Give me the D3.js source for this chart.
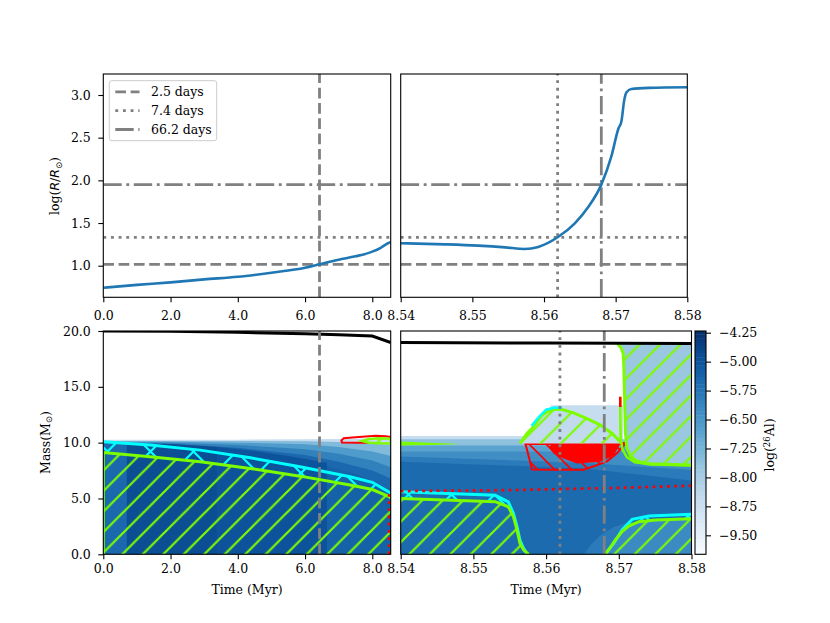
<!DOCTYPE html>
<html>
<head>
<meta charset="utf-8">
<script src="https://cdn.jsdelivr.net/npm/d3@7/dist/d3.min.js"></script>
<style>
  body { margin: 0; background: #fff; }
  svg text { font-family: 'DejaVu Serif', serif; fill: #000; }
</style>
</head>
<body>
<div id="chart"></div>
<script>
// ---- radius evolution (top panels), log(R/Rsun)
const timeEarly = [0, 1, 2, 3, 4, 5, 6, 6.43, 7, 7.5, 8, 8.25, 8.45, 8.55];
const logREarly = [0.742, 0.775, 0.805, 0.84, 0.87, 0.918, 0.975, 1.016, 1.07, 1.11, 1.165, 1.21, 1.26, 1.28];
const timeLate = [8.54, 8.5462, 8.5508, 8.5546, 8.5573, 8.5592, 8.5619, 8.5643, 8.5662, 8.568, 8.5694, 8.5704, 8.5708, 8.5712, 8.5715, 8.5722, 8.5746, 8.58];
const logRLate = [1.263, 1.25, 1.235, 1.215, 1.196, 1.22, 1.333, 1.497, 1.69, 1.95, 2.28, 2.61, 2.69, 2.94, 3.03, 3.07, 3.083, 3.09];

// ---- orbital periods marked on the plots
const periodLabels = ['2.5 days', '7.4 days', '66.2 days'];
const periodLogR = [1.016, 1.333, 1.95];
const periodTime = [6.43, 8.5619, 8.568];

// ---- tick labels
const ticksEarly = [0, 2, 4, 6, 8];
const ticksLate = [8.54, 8.55, 8.56, 8.57, 8.58];
const ticksLogR = [1.0, 1.5, 2.0, 2.5, 3.0];
const ticksMass = [0, 5, 10, 15, 20];
const ticksAl = [-4.25, -5.0, -5.75, -6.5, -7.25, -8.0, -8.75, -9.5];

// ---- Kippenhahn diagram, early part ([time Myr, mass Msun])
const totalMassEarly = [[0, 20.0], [2, 19.97], [4, 19.88], [6, 19.76], [7, 19.67], [8, 19.55], [8.55, 18.97]];
const convCoreEarly = [[0, 9.12], [1.39, 8.73], [2.88, 8.28], [4.37, 7.69], [5.85, 7.0], [7.34, 6.2], [8.0, 5.8], [8.48, 5.2], [8.55, 5.05]];
const overshootEarly = [[0, 10.07], [1.39, 9.78], [2.88, 9.33], [4.37, 8.65], [5.85, 7.84], [7.34, 6.94], [8.0, 6.45], [8.48, 5.6], [8.55, 5.4]];
const redShellEarly = [[7.08, 10.2], [7.15, 10.4], [7.5, 10.48], [7.9, 10.58], [8.1, 10.62], [8.4, 10.58], [8.55, 10.5], [8.55, 9.95], [8.2, 10.02], [7.6, 10.0], [7.1, 10.02]];
const greenShellEarly = [[7.7, 10.15], [7.9, 10.32], [8.2, 10.4], [8.55, 10.35], [8.55, 9.92], [8.2, 9.95], [7.9, 10.0]];
const heCoreEarly = [[8.5, 0], [8.5, 5.3], [8.55, 5.6]];

// log(26Al) field, early part: layer levels and the top of each layer
const fieldEarlyTimes = [0, 2, 4, 6, 7, 8, 8.55];
const fieldEarlyLevels = [-8.6, -7.4, -6.6, -6.0, -5.45];
const fieldEarlyTops = [
  [10.25, 10.25, 10.27, 10.3, 10.32, 10.38, 10.42],
  [10.15, 10.15, 10.15, 10.12, 10.05, 9.95, 9.8],
  [10.1, 10.08, 10.0, 9.85, 9.6, 9.2, 8.8],
  [10.05, 9.98, 9.8, 9.4, 9.0, 8.4, 7.8],
  [10.0, 9.9, 9.55, 8.9, 8.3, 7.5, 6.8]
];
const coreShadeLevels = [-4.85, -4.98, -5.3];
const coreShadeAreas = [
  [[0.7, 0], [0.7, 9.95], [2, 9.88], [3.4, 9.6], [3.4, 0]],
  [[3.4, 0], [3.4, 9.6], [4.5, 9.25], [5.5, 8.8], [6.65, 8.2], [6.65, 0]],
  [[6.65, 0], [6.65, 7.9], [7.5, 7.2], [8.2, 6.3], [8.55, 5.6], [8.55, 0]]
];

// ---- Kippenhahn diagram, late part
const totalMassLate = [[8.54, 18.97], [8.56, 18.92], [8.58, 18.87]];
const convCoreLate1 = [[8.54, 5.0], [8.553, 4.71], [8.5548, 4.26], [8.5555, 3.37], [8.556, 2.18], [8.5564, 1.0], [8.5569, 0.4], [8.5576, 0]];
const overshootLate1 = [[8.54, 5.6], [8.553, 5.3], [8.5548, 4.7], [8.5555, 3.67], [8.556, 2.47], [8.5564, 1.28], [8.5569, 0.54], [8.5574, 0]];
const convCoreLate2 = [[8.56815, 0], [8.56884, 0.63], [8.56953, 1.28], [8.57045, 2.03], [8.57137, 2.53], [8.57274, 2.92], [8.57505, 3.07], [8.58, 3.19]];
const overshootLate2 = [[8.5682, 0], [8.56838, 0.24], [8.5693, 0.98], [8.57045, 2.18], [8.57183, 3.13], [8.57413, 3.43], [8.58, 3.58]];
const shellBump = [[8.55644, 9.93], [8.55736, 10.82], [8.55805, 11.27], [8.55874, 11.86], [8.55943, 12.46], [8.56012, 12.76], [8.56126, 13.0], [8.56219, 12.97], [8.56378, 12.67], [8.56563, 12.16], [8.56746, 11.57], [8.56908, 10.82], [8.57022, 10.07], [8.5704, 9.93]];
const shellBumpOvershoot = [[8.558, 11.5], [8.559, 12.3], [8.56, 12.95], [8.5612, 13.15], [8.5622, 13.12]];
const envelopeLate = [[8.5698, 18.87], [8.5703, 18.5], [8.5706, 18.0], [8.57068, 17.0], [8.5708, 14], [8.5709, 11], [8.5711, 9.5], [8.5716, 8.8], [8.5725, 8.35], [8.574, 8.1], [8.58, 8.0], [8.58, 18.87]];
const innerWallLate = [[8.5702, 14.1], [8.5702, 12.5], [8.57025, 10.5], [8.5705, 9.4], [8.5711, 8.7], [8.5722, 8.25], [8.5745, 8.05], [8.58, 7.95]];
const innerWallTip = [[8.5702, 14.1], [8.5702, 13.2]];
const redBoxLate = [[8.55713, 9.93], [8.57091, 9.93], [8.56977, 9.07], [8.56838, 8.33], [8.56654, 7.88], [8.56516, 7.58], [8.5615, 7.58], [8.55805, 7.6], [8.5578, 8.28], [8.5572, 9.8]];
const redBlobLate = [[8.56034, 9.62], [8.5608, 9.85], [8.5702, 9.85], [8.5693, 8.88], [8.56746, 8.28], [8.56425, 8.14], [8.5624, 8.59], [8.56103, 9.03]];
const greenStripLate = [[8.54, 10.1], [8.544, 10.0], [8.5477, 9.9], [8.5477, 9.85], [8.544, 9.8], [8.54, 9.75]];
const heCoreLate = [[8.54, 5.66], [8.555, 5.75], [8.57, 5.95], [8.58, 6.14]];

// log(26Al) field, late part
const fieldLateLevels = [-8.6, -7.6, -6.8, -6.3, -5.85, -5.5];
const fieldLateAreas = [
  [[8.54, 0], [8.54, 10.6], [8.5606, 10.6], [8.5606, 13.36], [8.5706, 13.36], [8.5706, 0]],
  [[8.54, 0], [8.54, 10.3], [8.58, 10.3], [8.58, 0]],
  [[8.54, 0], [8.54, 9.75], [8.58, 9.75], [8.58, 0]],
  [[8.54, 0], [8.54, 9.2], [8.58, 9.2], [8.58, 0]],
  [[8.54, 0], [8.54, 8.75], [8.565, 8.2], [8.58, 7.55], [8.58, 0]],
  [[8.54, 0], [8.54, 8.3], [8.565, 7.7], [8.58, 6.6], [8.58, 0]]
];
const glowLevel = -5.85;
const glowArea = [[8.5652, 0], [8.5662, 0.9], [8.5675, 1.7], [8.5692, 2.4], [8.571, 2.8], [8.58, 3.1], [8.58, 0]];
const coreLate2Level = -6.2;
const bumpLevel = -8.5;
const envelopeLevel = -7.8;
const alRange = [-9.99, -4.2];

// ---------------------------------------------------------------
const svg = d3.select('#chart').append('svg').attr('width', 830).attr('height', 623);
const defs = svg.append('defs');
const blues = d3.scaleSequential(d3.interpolateBlues).domain(alRange);

const GRAY = '#808080', GREEN = '#7cfc00', CYAN = '#00ffff', RED = '#ff0000';
const FS = '12.5px';
const dashStyle = ['10.7,4.6', '2.9,4.75', '18.4,4.6,2.9,4.6'];

// panel boxes
const TL = { x0: 103.3, x1: 390.7, y0: 74, y1: 297.3 };
const TR = { x0: 400.7, x1: 687.3, y0: 74, y1: 297.3 };
const BL = { x0: 103.3, x1: 390.7, y0: 331, y1: 554.3 };
const BR = { x0: 400.7, x1: 691.5, y0: 331, y1: 554.3 };
const CB = { x0: 695, x1: 706, y0: 331, y1: 554.3 };

const xEarly = d3.scaleLinear().domain([0, 8]).range([103.3, 372.3]);
const xLateTop = d3.scaleLinear().domain([8.54, 8.58]).range([400.7, 687.3]);
const xLateBot = d3.scaleLinear().domain([8.54, 8.58]).range([400.7, 691.5]);
const yLogR = d3.scaleLinear().domain([1.0, 3.0]).range([265.7, 95]);
const yMass = d3.scaleLinear().domain([0, 20]).range([554.3, 331]);
const yAl = d3.scaleLinear().domain([-4.25, -9.5]).range([332.7, 535.3]);

// hatch patterns (screen space, like matplotlib)
function addHatch(id, s, color, width, kinds) {
  const h = s / 2;
  let d = '';
  if (kinds.includes('/')) d += `M0,${s}L${s},0M${-h},${h}L${h},${-h}M${h},${s + h}L${s + h},${h}`;
  if (kinds.includes('\\')) d += `M0,0L${s},${s}M${-h},${h}L${h},${s + h}M${h},${-h}L${s + h},${h}`;
  defs.append('pattern').attr('id', id).attr('patternUnits', 'userSpaceOnUse')
    .attr('width', s).attr('height', s)
    .append('path').attr('d', d).attr('fill', 'none').attr('stroke', color).attr('stroke-width', width);
}
addHatch('hatchGreen', 20.5, GREEN, 2.2, '/');
addHatch('hatchCyan', 43, CYAN, 2.2, '/\\');
addHatch('hatchRed', 17, RED, 1.6, '\\');

function clipFor(id, b) {
  defs.append('clipPath').attr('id', id).append('rect')
    .attr('x', b.x0).attr('y', b.y0).attr('width', b.x1 - b.x0).attr('height', b.y1 - b.y0);
  return svg.append('g').attr('clip-path', `url(#${id})`);
}
function frame(b) {
  svg.append('rect').attr('x', b.x0).attr('y', b.y0).attr('width', b.x1 - b.x0).attr('height', b.y1 - b.y0)
    .attr('fill', 'none').attr('stroke', '#000').attr('stroke-width', 1.1);
}
function styleAxis(a) {
  a.select('.domain').remove();
  a.selectAll('line').attr('stroke', '#000').attr('stroke-width', 1.1);
  a.selectAll('text').attr('font-family', "'DejaVu Serif', serif").attr('font-size', FS).attr('fill', '#000');
}
function xAxisAt(scale, y, ticks, fmt, pad) {
  const a = svg.append('g').attr('transform', `translate(0,${y})`)
    .call(d3.axisBottom(scale).tickValues(ticks).tickFormat(d3.format(fmt)).tickSize(5).tickSizeOuter(0).tickPadding(pad));
  styleAxis(a);
}
function yAxisAt(scale, x, ticks, fmt) {
  const a = svg.append('g').attr('transform', `translate(${x},0)`)
    .call(d3.axisLeft(scale).tickValues(ticks).tickFormat(d3.format(fmt)).tickSize(5).tickSizeOuter(0).tickPadding(7.5));
  styleAxis(a);
}
const pathGen = (x, y) => d3.line().x(d => x(d[0])).y(d => y(d[1]));
function area(g, gen, pts, fill) {
  return g.append('path').attr('d', gen(pts) + 'Z').attr('fill', fill);
}
function stroke(g, gen, pts, color, w, dash) {
  const p = g.append('path').attr('d', gen(pts)).attr('fill', 'none')
    .attr('stroke', color).attr('stroke-width', w);
  if (dash) p.attr('stroke-dasharray', dash);
  return p;
}

// ---------------- top-left: radius, early
const gTL = clipFor('clipTL', TL);
periodLogR.forEach((r, i) => {
  gTL.append('line').attr('x1', TL.x0).attr('x2', TL.x1).attr('y1', yLogR(r)).attr('y2', yLogR(r))
    .attr('stroke', GRAY).attr('stroke-width', 2.8).attr('stroke-dasharray', dashStyle[i]);
});
gTL.append('line').attr('x1', xEarly(periodTime[0])).attr('x2', xEarly(periodTime[0]))
  .attr('y1', TL.y1).attr('y2', TL.y0).attr('stroke', GRAY).attr('stroke-width', 2.8).attr('stroke-dasharray', dashStyle[0]);
gTL.append('path').datum(timeEarly.map((t, i) => [t, logREarly[i]]))
  .attr('d', d3.line().x(d => xEarly(d[0])).y(d => yLogR(d[1])).curve(d3.curveMonotoneX))
  .attr('fill', 'none').attr('stroke', '#1f77b4').attr('stroke-width', 2.6);
frame(TL);
xAxisAt(xEarly, TL.y1, ticksEarly, '.1f', 8.8);
yAxisAt(yLogR, TL.x0, ticksLogR, '.1f');

// ---------------- top-right: radius, late
const gTR = clipFor('clipTR', TR);
periodLogR.forEach((r, i) => {
  gTR.append('line').attr('x1', TR.x0).attr('x2', TR.x1).attr('y1', yLogR(r)).attr('y2', yLogR(r))
    .attr('stroke', GRAY).attr('stroke-width', 2.8).attr('stroke-dasharray', dashStyle[i]);
});
[1, 2].forEach(i => {
  gTR.append('line').attr('x1', xLateTop(periodTime[i])).attr('x2', xLateTop(periodTime[i]))
    .attr('y1', TR.y1).attr('y2', TR.y0).attr('stroke', GRAY).attr('stroke-width', 2.8).attr('stroke-dasharray', dashStyle[i]);
});
gTR.append('path').datum(timeLate.map((t, i) => [t, logRLate[i]]))
  .attr('d', d3.line().x(d => xLateTop(d[0])).y(d => yLogR(d[1])).curve(d3.curveMonotoneX))
  .attr('fill', 'none').attr('stroke', '#1f77b4').attr('stroke-width', 2.6);
frame(TR);
xAxisAt(xLateTop, TR.y1, ticksLate, '.2f', 8.8);

// legend
const lg = svg.append('g');
lg.append('rect').attr('x', 109.3).attr('y', 80.7).attr('width', 107.4).attr('height', 60)
  .attr('rx', 2.5).attr('fill', '#fff').attr('fill-opacity', 0.8).attr('stroke', '#cccccc').attr('stroke-width', 1);
periodLabels.forEach((lab, i) => {
  const yy = 91.9 + i * 18.8;
  lg.append('line').attr('x1', 115.3).attr('x2', 139.5).attr('y1', yy).attr('y2', yy)
    .attr('stroke', GRAY).attr('stroke-width', 2.8).attr('stroke-dasharray', dashStyle[i]);
  lg.append('text').attr('x', 151).attr('y', yy + 4.5).attr('font-size', FS).text(lab);
});

// ---------------- bottom-left: Kippenhahn, early
const lineBL = pathGen(xEarly, yMass);
const gBL = clipFor('clipBL', BL);
fieldEarlyLevels.forEach((v, i) => {
  const pts = [[0, 0]].concat(fieldEarlyTimes.map((t, j) => [t, fieldEarlyTops[i][j]]), [[8.55, 0]]);
  area(gBL, lineBL, pts, blues(v));
});
coreShadeLevels.forEach((v, i) => area(gBL, lineBL, coreShadeAreas[i], blues(v)));
area(gBL, lineBL, redShellEarly, 'none').attr('stroke', RED).attr('stroke-width', 2);
area(gBL, lineBL, greenShellEarly, blues(bumpLevel));
area(gBL, lineBL, greenShellEarly, 'url(#hatchGreen)').attr('stroke', GREEN).attr('stroke-width', 2.5);
area(gBL, lineBL, [[0, 0]].concat(convCoreEarly, [[8.55, 0]]), 'url(#hatchGreen)');
area(gBL, lineBL, overshootEarly.concat(convCoreEarly.slice().reverse()), 'url(#hatchCyan)');
stroke(gBL, lineBL, overshootEarly, CYAN, 3);
stroke(gBL, lineBL, [[0, 0]].concat(convCoreEarly), GREEN, 3);
stroke(gBL, lineBL, totalMassEarly, '#000', 3);
stroke(gBL, lineBL, heCoreEarly, RED, 2.7, '2.7,4.5');
gBL.append('line').attr('x1', xEarly(periodTime[0])).attr('x2', xEarly(periodTime[0]))
  .attr('y1', BL.y1).attr('y2', BL.y0).attr('stroke', GRAY).attr('stroke-width', 2.8).attr('stroke-dasharray', dashStyle[0]);
frame(BL);
xAxisAt(xEarly, BL.y1, ticksEarly, '.1f', 4.5);
yAxisAt(yMass, BL.x0, ticksMass, '.1f');

// ---------------- bottom-right: Kippenhahn, late
const lineBR = pathGen(xLateBot, yMass);
const gBR = clipFor('clipBR', BR);
fieldLateLevels.forEach((v, i) => area(gBR, lineBR, fieldLateAreas[i], blues(v)));
area(gBR, lineBR, glowArea, blues(glowLevel));
area(gBR, lineBR, convCoreLate2.concat([[8.58, 0]]), blues(coreLate2Level));
area(gBR, lineBR, greenStripLate, GREEN);
// red (non-convective mixing) zone
area(gBR, lineBR, redBoxLate, 'url(#hatchRed)').attr('stroke', RED).attr('stroke-width', 2);
area(gBR, lineBR, redBlobLate, RED);
stroke(gBR, lineBR, [redBoxLate[0], redBoxLate[1]], RED, 3);
// convective shell bump
area(gBR, lineBR, shellBump, blues(bumpLevel));
area(gBR, lineBR, shellBump, 'url(#hatchGreen)');
stroke(gBR, lineBR, shellBump, GREEN, 3);
stroke(gBR, lineBR, shellBumpOvershoot, CYAN, 2.5);
// convective envelope
area(gBR, lineBR, envelopeLate, blues(envelopeLevel));
area(gBR, lineBR, envelopeLate, 'url(#hatchGreen)');
stroke(gBR, lineBR, envelopeLate.slice(0, -1), GREEN, 3);
stroke(gBR, lineBR, innerWallLate, GREEN, 2.5);
stroke(gBR, lineBR, innerWallTip, RED, 2.5);
// convective cores
area(gBR, lineBR, [[8.53, 0], [8.53, convCoreLate1[0][1]]].concat(convCoreLate1), 'url(#hatchGreen)');
area(gBR, lineBR, overshootLate1.concat(convCoreLate1.slice().reverse()), 'url(#hatchCyan)');
stroke(gBR, lineBR, overshootLate1, CYAN, 3);
stroke(gBR, lineBR, convCoreLate1, GREEN, 3);
area(gBR, lineBR, convCoreLate2.concat([[8.58, 0]]), 'url(#hatchGreen)');
area(gBR, lineBR, overshootLate2.concat(convCoreLate2.slice().reverse()), 'url(#hatchCyan)');
stroke(gBR, lineBR, overshootLate2, CYAN, 3);
stroke(gBR, lineBR, convCoreLate2, GREEN, 3);
stroke(gBR, lineBR, totalMassLate, '#000', 3);
stroke(gBR, lineBR, heCoreLate, RED, 2.7, '2.7,4.5');
[1, 2].forEach(i => {
  gBR.append('line').attr('x1', xLateBot(periodTime[i])).attr('x2', xLateBot(periodTime[i]))
    .attr('y1', BR.y1).attr('y2', BR.y0).attr('stroke', GRAY).attr('stroke-width', 2.8).attr('stroke-dasharray', dashStyle[i]);
});
frame(BR);
xAxisAt(xLateBot, BR.y1, ticksLate, '.2f', 4.5);

// ---------------- colorbar
const gCB = clipFor('clipCB', CB);
d3.range(alRange[0], alRange[1], 0.1).forEach(v => {
  gCB.append('rect').attr('x', CB.x0).attr('width', CB.x1 - CB.x0)
    .attr('y', yAl(v + 0.1)).attr('height', yAl(v) - yAl(v + 0.1) + 0.4)
    .attr('fill', blues(v + 0.05));
});
frame(CB);
const cbAxis = svg.append('g').attr('transform', `translate(${CB.x1},0)`)
  .call(d3.axisRight(yAl).tickValues(ticksAl).tickFormat(d3.format('.2f')).tickSize(5).tickSizeOuter(0).tickPadding(8));
styleAxis(cbAxis);

// ---------------- axis labels
const yl1 = svg.append('text').attr('transform', 'translate(59,186) rotate(-90)')
  .attr('text-anchor', 'middle').attr('font-size', FS);
yl1.append('tspan').text('log(');
yl1.append('tspan').attr('font-style', 'italic').attr('font-family', "'DejaVu Sans', sans-serif").text('R');
yl1.append('tspan').attr('font-family', "'DejaVu Sans', sans-serif").text('/');
yl1.append('tspan').attr('font-style', 'italic').attr('font-family', "'DejaVu Sans', sans-serif").text('R');
yl1.append('tspan').attr('font-size', '8.5px').attr('dy', 2.5).attr('font-family', "'DejaVu Sans', sans-serif").text('\u2299');
yl1.append('tspan').attr('dy', -2.5).text(')');

const yl2 = svg.append('text').attr('transform', 'translate(49.5,442.5) rotate(-90)')
  .attr('text-anchor', 'middle').attr('font-size', FS);
yl2.append('tspan').text('Mass(M');
yl2.append('tspan').attr('font-size', '8.5px').attr('dy', 2.5).attr('font-family', "'DejaVu Sans', sans-serif").text('\u2299');
yl2.append('tspan').attr('dy', -2.5).text(')');

svg.append('text').attr('x', (BL.x0 + BL.x1) / 2).attr('y', 594).attr('text-anchor', 'middle')
  .attr('font-size', FS).text('Time (Myr)');
svg.append('text').attr('x', (BR.x0 + BR.x1) / 2).attr('y', 594).attr('text-anchor', 'middle')
  .attr('font-size', FS).text('Time (Myr)');

const cl = svg.append('text').attr('transform', 'translate(774,445) rotate(-90)')
  .attr('text-anchor', 'middle').attr('font-size', FS);
cl.append('tspan').text('log(');
cl.append('tspan').attr('font-size', '8.5px').attr('dy', -4.5).text('26');
cl.append('tspan').attr('dy', 4.5).text('Al)');
</script>
</body>
</html>
